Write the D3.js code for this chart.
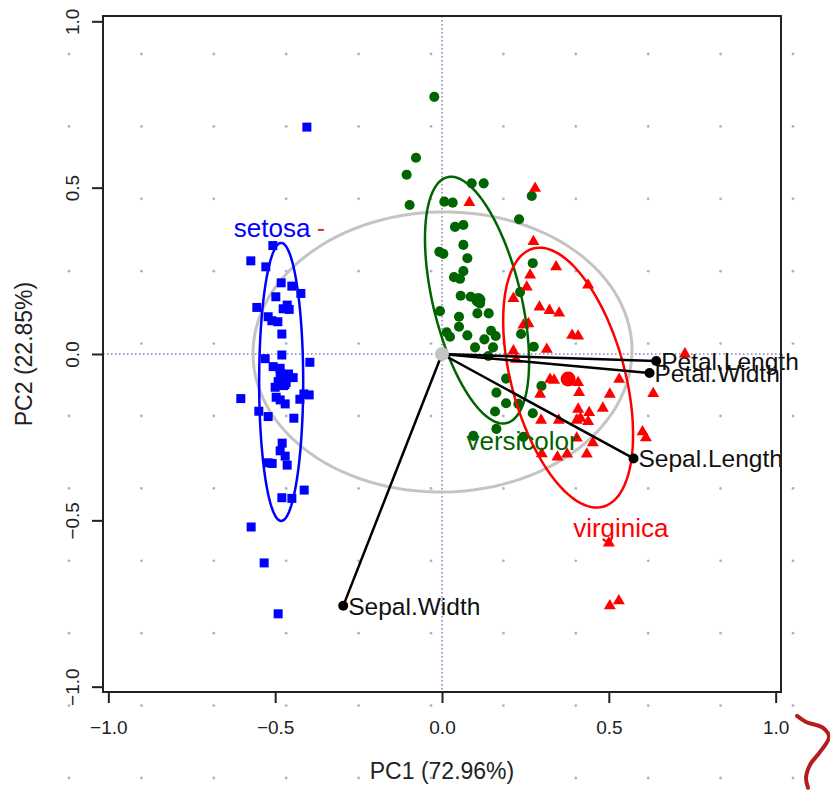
<!DOCTYPE html>
<html>
<head>
<meta charset="utf-8">
<script src="https://cdn.jsdelivr.net/npm/d3@7"></script>
<style>
  body { margin: 0; background: #fff; }
  svg text { font-family: "Liberation Sans", Arial, sans-serif; }
</style>
</head>
<body>
<div class="plot"></div>
<script>
// PCA scores (PC1, PC2)
var setosa = [
  [-0.507, 0.326], [-0.573, 0.280], [-0.528, 0.262], [-0.482, 0.214], [-0.450, 0.204],
  [-0.423, 0.182], [-0.498, 0.172], [-0.555, 0.140], [-0.464, 0.147], [-0.476, 0.136],
  [-0.458, 0.134], [-0.521, 0.112], [-0.510, 0.100], [-0.492, 0.097], [-0.480, 0.060],
  [-0.530, -0.014], [-0.480, -0.003], [-0.396, -0.025], [-0.506, -0.038], [-0.485, -0.043],
  [-0.446, -0.071], [-0.485, -0.058], [-0.491, -0.083], [-0.467, -0.086], [-0.603, -0.134],
  [-0.497, -0.130], [-0.485, -0.138], [-0.470, -0.150], [-0.426, -0.136], [-0.414, -0.120],
  [-0.398, -0.123], [-0.549, -0.172], [-0.521, -0.188], [-0.444, -0.193], [-0.479, -0.268],
  [-0.485, -0.291], [-0.470, -0.307], [-0.521, -0.327], [-0.509, -0.329], [-0.464, -0.334],
  [-0.413, -0.409], [-0.480, -0.432], [-0.450, -0.434], [-0.405, 0.682], [-0.572, -0.520],
  [-0.533, -0.628], [-0.491, -0.781], [-0.475, -0.095], [-0.500, -0.100], [-0.460, -0.060]
];
var versicolor = [
  [-0.023, 0.773], [-0.078, 0.590], [-0.106, 0.539], [-0.097, 0.448], [0.089, 0.513],
  [0.125, 0.513], [0.007, 0.458], [0.032, 0.455], [0.269, 0.475], [0.231, 0.405],
  [0.039, 0.382], [0.064, 0.388], [0.064, 0.328], [-0.008, 0.307], [0.004, 0.301],
  [0.076, 0.288], [0.272, 0.273], [0.064, 0.249], [0.036, 0.231], [0.054, 0.226],
  [0.056, 0.175], [0.086, 0.172], [0.234, 0.186], [-0.006, 0.129], [0.106, 0.122],
  [0.140, 0.122], [0.051, 0.112], [0.051, 0.082], [0.014, 0.065], [0.024, 0.052],
  [0.076, 0.056], [0.147, 0.070], [0.161, 0.054], [0.127, 0.044], [0.237, 0.060],
  [0.099, 0.020], [0.153, 0.020], [0.275, 0.022], [0.139, -0.006], [0.192, -0.074],
  [0.298, -0.096], [0.163, -0.116], [0.192, -0.148], [0.229, -0.150], [0.159, -0.173],
  [0.272, -0.178], [0.163, -0.225], [0.244, -0.249], [0.094, -0.246], [0.114, 0.152]
];
var virginica = [
  [0.279, 0.501], [0.274, 0.341], [0.342, 0.265], [0.264, 0.240], [0.254, 0.204],
  [0.438, 0.210], [0.214, 0.170], [0.292, 0.144], [0.322, 0.134], [0.351, 0.126],
  [0.244, 0.090], [0.259, 0.094], [0.390, 0.059], [0.408, 0.057], [0.214, 0.012],
  [0.314, 0.017], [0.222, -0.013], [0.324, -0.073], [0.336, -0.076], [0.408, -0.083],
  [0.531, -0.073], [0.633, -0.116], [0.294, -0.118], [0.411, -0.113], [0.503, -0.118],
  [0.408, -0.163], [0.441, -0.173], [0.482, -0.160], [0.297, -0.196], [0.350, -0.196],
  [0.404, -0.196], [0.415, -0.190], [0.438, -0.200], [0.601, -0.231], [0.611, -0.249],
  [0.452, -0.264], [0.404, -0.250], [0.299, -0.297], [0.346, -0.307], [0.375, -0.298],
  [0.434, -0.298], [0.082, 0.458], [0.728, 0.003], [0.500, -0.565], [0.503, -0.754],
  [0.530, -0.739]
];

// group means
var centroids = [[-0.477, -0.086], [0.109, 0.162], [0.378, -0.075]];

// variable loadings
var varNames = ["Petal.Length", "Petal.Width", "Sepal.Length", "Sepal.Width"];
var loadX = [0.642, 0.622, 0.574, -0.296];
var loadY = [-0.021, -0.057, -0.314, -0.757];

// ellipses: centre x, centre y, semi major, semi minor, angle (deg)
var ellipses = [
  [0.0015, 0.006, 0.568, 0.421, 1],
  [-0.482, -0.084, 0.418, 0.066, 90],
  [0.105, 0.162, 0.380, 0.132, 103.5],
  [0.378, -0.071, 0.402, 0.170, 105.1]
];

var groupNames = ["setosa", "versicolor", "virginica"];
var groupLabelPos = [[-0.509, 0.379], [0.240, -0.261], [0.536, -0.523]];

var ticks = [-1, -0.5, 0, 0.5, 1];

// hand-drawn marks on the picture
var redDash = [[-0.372, 0.373], [-0.354, 0.373]];
var squiggle = [[1.064, -1.088], [1.091, -1.106], [1.142, -1.124], [1.160, -1.151],
  [1.133, -1.196], [1.103, -1.235], [1.091, -1.274], [1.097, -1.304]];

var svgWidth = 830;
var svgHeight = 792;

var svg = d3.select(".plot")
  .append("svg")
  .attr("width", svgWidth)
  .attr("height", svgHeight);

// dotted paper background
var dotsG = svg.append("g");
for (var i = 0; i < 12; i++) {
  for (var j = 0; j < 12; j++) {
    dotsG.append("circle")
      .attr("cx", 69 + 72.4 * i)
      .attr("cy", 54 + 72.4 * j)
      .attr("r", 1.4)
      .attr("fill", "#a3b3da");
  }
}

var usr = [-1.016, 1.016];
var xScale = d3.scaleLinear().domain(usr).range([103, 781]);
var yScale = d3.scaleLinear().domain(usr).range([692, 16]);

var colors = ["#0000ff", "#006400", "#ff0000"];

// zero lines
svg.append("line")
  .attr("x1", xScale(0)).attr("x2", xScale(0))
  .attr("y1", yScale(usr[1])).attr("y2", yScale(usr[0]))
  .attr("stroke", "#7f7fc0").attr("stroke-width", 1.5)
  .attr("stroke-dasharray", "1.5,2.5");
svg.append("line")
  .attr("x1", xScale(usr[0])).attr("x2", xScale(usr[1]))
  .attr("y1", yScale(0)).attr("y2", yScale(0))
  .attr("stroke", "#7f7fc0").attr("stroke-width", 1.5)
  .attr("stroke-dasharray", "1.5,2.5");

function ellipsePoints(e) {
  var pts = [];
  var th = e[4] * Math.PI / 180;
  for (var k = 0; k <= 120; k++) {
    var t = k / 120 * 2 * Math.PI;
    var ex = e[0] + e[2] * Math.cos(t) * Math.cos(th) - e[3] * Math.sin(t) * Math.sin(th);
    var ey = e[1] + e[2] * Math.cos(t) * Math.sin(th) + e[3] * Math.sin(t) * Math.cos(th);
    pts.push([ex, ey]);
  }
  return pts;
}

var line = d3.line()
  .x(d => xScale(d[0]))
  .y(d => yScale(d[1]));

// overall ellipse
svg.append("path")
  .attr("d", line(ellipsePoints(ellipses[0])))
  .attr("fill", "none")
  .attr("stroke", "#c4c4c4")
  .attr("stroke-width", 3);

// points
var symSquare = d3.symbol().type(d3.symbolSquare).size(81);
var symCircle = d3.symbol().type(d3.symbolCircle).size(80);
var symTriangle = d3.symbol().type(d3.symbolTriangle).size(62);

svg.append("g").selectAll("path")
  .data(setosa).enter().append("path")
  .attr("d", symSquare)
  .attr("transform", d => `translate(${xScale(d[0])},${yScale(d[1])})`)
  .attr("fill", colors[0]);

svg.append("g").selectAll("path")
  .data(versicolor).enter().append("path")
  .attr("d", symCircle)
  .attr("transform", d => `translate(${xScale(d[0])},${yScale(d[1])})`)
  .attr("fill", colors[1]);

svg.append("g").selectAll("path")
  .data(virginica).enter().append("path")
  .attr("d", symTriangle)
  .attr("transform", d => `translate(${xScale(d[0])},${yScale(d[1]) + 1})`)
  .attr("fill", colors[2]);

// group means
svg.append("path")
  .attr("d", d3.symbol().type(d3.symbolSquare).size(169)())
  .attr("transform", `translate(${xScale(centroids[0][0])},${yScale(centroids[0][1])})`)
  .attr("fill", colors[0]);
svg.append("circle")
  .attr("cx", xScale(centroids[1][0])).attr("cy", yScale(centroids[1][1]))
  .attr("r", 7).attr("fill", colors[1]);
svg.append("circle")
  .attr("cx", xScale(centroids[2][0])).attr("cy", yScale(centroids[2][1]))
  .attr("r", 7.5).attr("fill", colors[2]);

// group ellipses
ellipses.slice(1).forEach(function (e, k) {
  svg.append("path")
    .attr("d", line(ellipsePoints(e)))
    .attr("fill", "none")
    .attr("stroke", colors[k])
    .attr("stroke-width", 2.5);
});

// variable arrows
varNames.forEach(function (name, k) {
  svg.append("line")
    .attr("x1", xScale(0)).attr("y1", yScale(0))
    .attr("x2", xScale(loadX[k])).attr("y2", yScale(loadY[k]))
    .attr("stroke", "#000").attr("stroke-width", 2.5);
  svg.append("circle")
    .attr("cx", xScale(loadX[k])).attr("cy", yScale(loadY[k]))
    .attr("r", 5).attr("fill", "#000");
});

svg.append("circle")
  .attr("cx", xScale(0)).attr("cy", yScale(0))
  .attr("r", 7).attr("fill", "#c4c4c4");

// variable labels
varNames.forEach(function (name, k) {
  svg.append("text")
    .attr("x", xScale(loadX[k]) + 5)
    .attr("y", yScale(loadY[k]))
    .attr("dy", "0.36em")
    .attr("font-size", "24.5px")
    .attr("fill", "#111")
    .text(name);
});

// group labels
groupNames.forEach(function (name, k) {
  svg.append("text")
    .attr("x", xScale(groupLabelPos[k][0]))
    .attr("y", yScale(groupLabelPos[k][1]))
    .attr("dy", "0.36em")
    .attr("text-anchor", "middle")
    .attr("font-size", "26px")
    .attr("fill", colors[k])
    .text(name);
});

// frame
svg.append("rect")
  .attr("x", xScale(usr[0])).attr("y", yScale(usr[1]))
  .attr("width", xScale(usr[1]) - xScale(usr[0]))
  .attr("height", yScale(usr[0]) - yScale(usr[1]))
  .attr("fill", "none")
  .attr("stroke", "#222")
  .attr("stroke-width", 2);

// axes
var fmt = d3.format(".1f");
var xAxis = svg.append("g")
  .attr("transform", `translate(0, ${yScale(usr[0])})`)
  .call(d3.axisBottom(xScale).tickValues(ticks).tickSize(11).tickFormat(fmt));
xAxis.select(".domain").remove();
xAxis.selectAll("line").attr("stroke", "#222").attr("stroke-width", 2);
xAxis.selectAll("text")
  .attr("y", 42).attr("dy", null)
  .attr("font-size", "19px")
  .attr("fill", "#222")
  .style("font-family", "'Liberation Sans', Arial, sans-serif");

var yAxis = svg.append("g")
  .attr("transform", `translate(${xScale(usr[0])}, 0)`)
  .call(d3.axisLeft(yScale).tickValues(ticks).tickSize(11).tickFormat(fmt));
yAxis.select(".domain").remove();
yAxis.selectAll("line").attr("stroke", "#222").attr("stroke-width", 2);
yAxis.selectAll("text")
  .attr("x", null).attr("dy", null)
  .attr("transform", "translate(-24,0) rotate(-90)")
  .attr("text-anchor", "middle")
  .attr("font-size", "19px")
  .attr("fill", "#222")
  .style("font-family", "'Liberation Sans', Arial, sans-serif");

// axis titles
svg.append("text")
  .attr("x", xScale(0)).attr("y", 779)
  .attr("text-anchor", "middle")
  .attr("font-size", "23px")
  .attr("fill", "#222")
  .text("PC1 (72.96%)");

svg.append("text")
  .attr("transform", `translate(32, ${yScale(0)}) rotate(-90)`)
  .attr("text-anchor", "middle")
  .attr("font-size", "23px")
  .attr("fill", "#222")
  .text("PC2 (22.85%)");

// hand-drawn red marks
svg.append("path")
  .attr("d", line(redDash))
  .attr("stroke", "#d42a2a").attr("stroke-width", 2).attr("fill", "none");

svg.append("path")
  .attr("d", d3.line().x(d => xScale(d[0])).y(d => yScale(d[1])).curve(d3.curveCatmullRom)(squiggle))
  .attr("stroke", "#b51c1c").attr("stroke-width", 4)
  .attr("stroke-linecap", "round")
  .attr("fill", "none");
</script>
</body>
</html>
